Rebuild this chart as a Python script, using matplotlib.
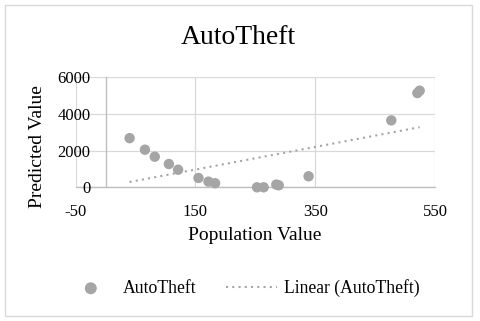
import numpy as np
import matplotlib
matplotlib.use("Agg")
import matplotlib.pyplot as plt
from matplotlib.patches import Rectangle

# Data
population = [40, 65.6, 82, 105.6, 121, 155, 171.7, 182.8, 252.8, 263.9, 285, 289, 338.9, 477, 520.6, 524.4]
predicted = [2680, 2050, 1670, 1270, 960, 510, 310, 220, 0, 0, 150, 110, 600, 3650, 5140, 5270]
x_ticks = [-50, 150, 350, 550]
y_ticks = [0, 2000, 4000, 6000]
title = "AutoTheft"
series_name = "AutoTheft"
trend_name = "Linear (AutoTheft)"

plt.rcParams['font.family'] = ['Liberation Serif', 'DejaVu Serif']
plt.rcParams['axes.unicode_minus'] = False

fig = plt.figure(figsize=(4.8, 3.21), dpi=100)
W, H = 480, 321

# outer border
fig.patches.append(Rectangle((5 / W, 5 / H), 467 / W, 311 / H,
                             transform=fig.transFigure, zorder=-10,
                             facecolor="none", edgecolor="#D9D9D9", linewidth=1.0))

ax = fig.add_axes([75.7 / W, 1 - 187.3 / H, (435 - 75.7) / W, (187.3 - 77.3) / H])
ax.set_facecolor("none")
ax.set_xlim(-50, 550)
ax.set_ylim(0, 6000)
ax.set_xticks(x_ticks)
ax.set_yticks(y_ticks)

grid_c = "#D9D9D9"
axis_c = "#BFBFBF"
for xv in x_ticks:
    ax.axvline(xv, color=grid_c, lw=0.9, zorder=0)
for yv in y_ticks:
    ax.axhline(yv, color=grid_c, lw=0.9, zorder=0)

for s in ["top", "right"]:
    ax.spines[s].set_visible(False)
ax.spines["left"].set_position(("data", 0))
ax.spines["left"].set_color(axis_c)
ax.spines["bottom"].set_color(axis_c)
ax.spines["left"].set_linewidth(1.0)
ax.spines["bottom"].set_linewidth(1.0)
ax.spines["left"].set_zorder(1)
ax.spines["bottom"].set_zorder(1)
ax.tick_params(axis="y", length=0, pad=11, labelsize=12, labelcolor="black")
ax.tick_params(axis="x", length=0, pad=12, labelsize=12, labelcolor="black")

pt_c = "#A5A5A5"
sc = ax.scatter(population, predicted, s=56, color=pt_c, edgecolors="none", zorder=3,
                label=series_name, clip_on=False)

# linear trendline (least squares) over data range
slope, intercept = np.polyfit(population, predicted, 1)
xs = np.array([min(population), max(population)])
ln, = ax.plot(xs, slope * xs + intercept, color=pt_c, lw=1.5, linestyle=(0, (1, 2)),
              zorder=2, label=trend_name)

fig.text(0.496, 1 - 38 / H, title, ha="center", va="center", fontsize=20, color="black")
fig.text(37 / W, 1 - 147 / H, "Predicted Value", ha="center", va="center", rotation=90,
         fontsize=14, color="black")
fig.text(254.8 / W, 1 - 236 / H, "Population Value", ha="center", va="center",
         fontsize=14, color="black")

fig.legend(handles=[sc, ln], labels=[series_name, trend_name], loc="center",
           bbox_to_anchor=(242.5 / W, 1 - 288 / H), ncol=2, frameon=False,
           fontsize=12.7, handlelength=2.84, handletextpad=0.4, columnspacing=1.7,
           scatterpoints=1, borderpad=0, markerscale=1.15)

fig.savefig("out.png", dpi=100)
